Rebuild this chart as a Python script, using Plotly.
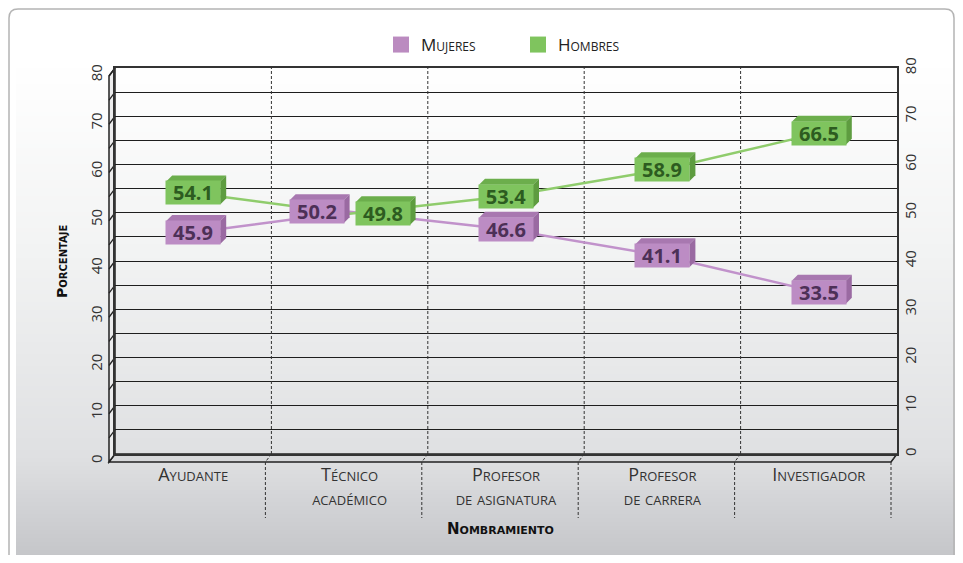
import plotly.graph_objects as go

# Datos
categorias = ['Ayudante', 'Técnico<br>académico', 'Profesor<br>de asignatura',
              'Profesor<br>de carrera', 'Investigador']
mujeres = [45.9, 50.2, 46.6, 41.1, 33.5]
hombres = [54.1, 49.8, 53.4, 58.9, 66.5]
y_ticks = [0, 10, 20, 30, 40, 50, 60, 70, 80]

# Tamaño y márgenes (pared del fondo = área de trazado); la página tiene 8px de margen
OFF = 8
W, H = 963 - 2 * OFF, 563 - 2 * OFF
ML, MT = 115 - OFF, 68 - OFF
PW, PH = 897 - 115, 454 - 68
MR, MB = W - ML - PW, H - MT - PH
YMAX = 80
N = len(categorias)
SX = N / PW          # unidades de x por pixel
SY = YMAX / PH       # unidades de y por pixel


# coordenadas de pantalla (px de la ventana) -> paper
def fx(p):
    return (p - OFF - ML) / PW


def fy(p):
    return (MT + PH - (p - OFF)) / PH


def mezcla(c1, c2, t):
    return 'rgb(%d,%d,%d)' % tuple(round(a + (b - a) * t) for a, b in zip(c1, c2))


FUENTE = 'Open Sans'
FUENTE_TIT = 'DejaVu Sans'
shapes = []

# fondo gris degradado
paradas = [(60, (255, 255, 255)), (250, (242, 243, 243)), (454, (223, 224, 226)), (556, (196, 197, 200))]
for (y0, c0), (y1, c1) in zip(paradas[:-1], paradas[1:]):
    paso = 4
    for yy in range(y0, y1, paso):
        t = (yy - y0) / (y1 - y0)
        shapes.append(dict(type='rect', xref='paper', yref='paper', layer='below',
                           x0=fx(16), x1=fx(956), y0=fy(yy), y1=fy(min(yy + paso + 1, y1)),
                           fillcolor=mezcla(c0, c1, t), line=dict(width=0)))

# borde redondeado exterior (dentro del área visible de la figura)
r = 9
x0b, x1b, y0b, y1b = OFF + 1, W + OFF - 1, OFF + 1, 575
camino = (f'M {fx(x0b + r)},{fy(y0b)} L {fx(x1b - r)},{fy(y0b)} '
          f'Q {fx(x1b)},{fy(y0b)} {fx(x1b)},{fy(y0b + r)} L {fx(x1b)},{fy(y1b)} '
          f'L {fx(x0b)},{fy(y1b)} L {fx(x0b)},{fy(y0b + r)} Q {fx(x0b)},{fy(y0b)} {fx(x0b + r)},{fy(y0b)} Z')
shapes.append(dict(type='path', xref='paper', yref='paper', layer='below', path=camino,
                   line=dict(color='#b4b4b4', width=1.5)))

# marco 3D: piso y pared izquierda
X0, X1, Y0, Y1 = 115, 897, 68, 454
DX, DY = 6, 8
piso = (f'M {fx(X0)},{fy(Y1)} L {fx(X1)},{fy(Y1)} '
        f'L {fx(X1 - DX)},{fy(Y1 + DY)} L {fx(X0 - DX)},{fy(Y1 + DY)} Z')
shapes.append(dict(type='path', xref='paper', yref='paper', layer='below', path=piso,
                   fillcolor='#d8d9db', line=dict(color='#222', width=1.5)))
pared = (f'M {fx(X0 - DX)},{fy(Y0 + DY)} L {fx(X0)},{fy(Y0)} '
         f'L {fx(X0)},{fy(Y1)} L {fx(X0 - DX)},{fy(Y1 + DY)} Z')
shapes.append(dict(type='path', xref='paper', yref='paper', layer='below', path=pared,
                   fillcolor='#ececed', line=dict(color='#222', width=1.5)))
for v in range(0, YMAX + 1, 5):
    shapes.append(dict(type='line', xref='paper', yref='y', layer='between',
                       x0=fx(X0 - DX), x1=fx(X0), y0=v - DY * SY, y1=v,
                       line=dict(color='#222', width=1.3)))

# separadores de categorías
for i in range(N + 1):
    b = i - 0.5
    if 0 < i < N:
        shapes.append(dict(type='line', xref='x', yref='y', layer='between',
                           x0=b, x1=b, y0=0, y1=YMAX,
                           line=dict(color='#333', width=1, dash='3px,2px')))
    shapes.append(dict(type='line', xref='x', yref='paper', layer='below',
                       x0=b, x1=b - DX * SX, y0=fy(Y1), y1=fy(Y1 + DY),
                       line=dict(color='#333', width=1, dash='3px,2px')))
    shapes.append(dict(type='line', xref='x', yref='paper', layer='below',
                       x0=b - DX * SX, x1=b - DX * SX, y0=fy(Y1 + DY), y1=fy(518),
                       line=dict(color='#333', width=1, dash='3px,2px')))

# etiquetas de valor como cajas 3D
BW, BH, BD = 54, 23, 6
annotations = []
series = [
    (mujeres, '#bc8cc4', '#a878b0', '#9a6aa2', '#4d3057', -1),
    (hombres, '#7fc45e', '#6cae4c', '#5e9c40', '#2d5c20', 1),
]
for valores, c_frente, c_arriba, c_lado, c_texto, signo in series:
    for i, v in enumerate(valores):
        otro = hombres[i] if signo < 0 else mujeres[i]
        dpx = signo * 33 if abs(v - otro) < 6 else 0
        cx = i + dpx * SX
        xl, xr = cx - BW / 2 * SX, cx + BW / 2 * SX
        yt, yb = v + BH / 2 * SY, v - BH / 2 * SY
        ox, oy = BD * SX, BD * SY
        shapes.append(dict(type='path', xref='x', yref='y', layer='above',
                           path=f'M {xl},{yt} L {xl + ox},{yt + oy} L {xr + ox},{yt + oy} L {xr},{yt} Z',
                           fillcolor=c_arriba, line=dict(width=0)))
        shapes.append(dict(type='path', xref='x', yref='y', layer='above',
                           path=f'M {xr},{yt} L {xr + ox},{yt + oy} L {xr + ox},{yb + oy} L {xr},{yb} Z',
                           fillcolor=c_lado, line=dict(width=0)))
        annotations.append(dict(x=i, y=v, xref='x', yref='y', xshift=dpx, text=f'{v:.1f}',
                                showarrow=False, width=BW, height=BH, bgcolor=c_frente,
                                borderpad=0, align='center', valign='middle',
                                font=dict(family=FUENTE, size=20, weight='bold', color=c_texto)))

# títulos de ejes
annotations.append(dict(text='Porcentaje', xref='paper', yref='paper', x=fx(62), y=fy(261),
                        xanchor='center', yanchor='middle', textangle=-90, showarrow=False,
                        font=dict(family=FUENTE_TIT, size=14, weight='bold', variant='small-caps', color='#111')))
annotations.append(dict(text='Nombramiento', xref='paper', yref='paper', x=fx(500), y=fy(529),
                        xanchor='center', yanchor='middle', showarrow=False,
                        font=dict(family=FUENTE_TIT, size=15, weight='bold', variant='small-caps', color='#111')))

x = list(range(N))
fig = go.Figure()
fig.add_trace(go.Scatter(x=x, y=mujeres, mode='lines', name='Mujeres', showlegend=False,
                         line=dict(color='#c192cb', width=2.5)))
fig.add_trace(go.Scatter(x=x, y=hombres, mode='lines', name='Hombres', showlegend=False,
                         line=dict(color='#8fcc6c', width=2.5)))
# entradas de leyenda con cuadros
fig.add_trace(go.Scatter(x=[None], y=[None], mode='markers', name='Mujeres',
                         marker=dict(symbol='square', size=17, color='#bb8bc0')))
fig.add_trace(go.Scatter(x=[None], y=[None], mode='markers', name='Hombres',
                         marker=dict(symbol='square', size=17, color='#7fc45e')))
# eje derecho
fig.add_trace(go.Scatter(x=[0], y=[0], yaxis='y2', mode='lines', showlegend=False,
                         hoverinfo='skip', opacity=0))

fig.update_layout(
    width=W, height=H,
    margin=dict(l=ML, r=MR, t=MT, b=MB),
    paper_bgcolor='white', plot_bgcolor='rgba(0,0,0,0)',
    font=dict(family=FUENTE, color='#333'),
    shapes=shapes, annotations=annotations,
    legend=dict(orientation='h', x=fx(381), y=fy(45), xanchor='left', yanchor='middle',
                bgcolor='rgba(0,0,0,0)', entrywidth=92,
                font=dict(family=FUENTE, size=17, variant='small-caps', color='#222')),
    xaxis=dict(range=[-0.5, N - 0.5], tickvals=x, ticktext=categorias, showgrid=False,
               zeroline=False, showline=True, mirror=True, linecolor='#333', linewidth=1.5,
               ticks='', ticklabelstandoff=4,
               tickfont=dict(family=FUENTE, size=18, variant='small-caps', color='#333')),
    yaxis=dict(range=[0, YMAX], tickvals=y_ticks, tickangle=-90, showgrid=True,
               gridcolor='#1e1e1e', gridwidth=1.3, zeroline=False,
               minor=dict(dtick=5, showgrid=True, gridcolor='#1e1e1e', gridwidth=1.3),
               showline=True, mirror=True, linecolor='#333', linewidth=1.5,
               ticks='', ticklabelshift=7, ticklabelstandoff=5,
               tickfont=dict(family=FUENTE, size=15, color='#333')),
    yaxis2=dict(range=[0, YMAX], tickvals=y_ticks, tickangle=-90, overlaying='y', side='right',
                showgrid=False, zeroline=False, showline=False, ticks='', ticklabelstandoff=3,
                tickfont=dict(family=FUENTE, size=15, color='#333')),
)

fig.write_html('out.html')
